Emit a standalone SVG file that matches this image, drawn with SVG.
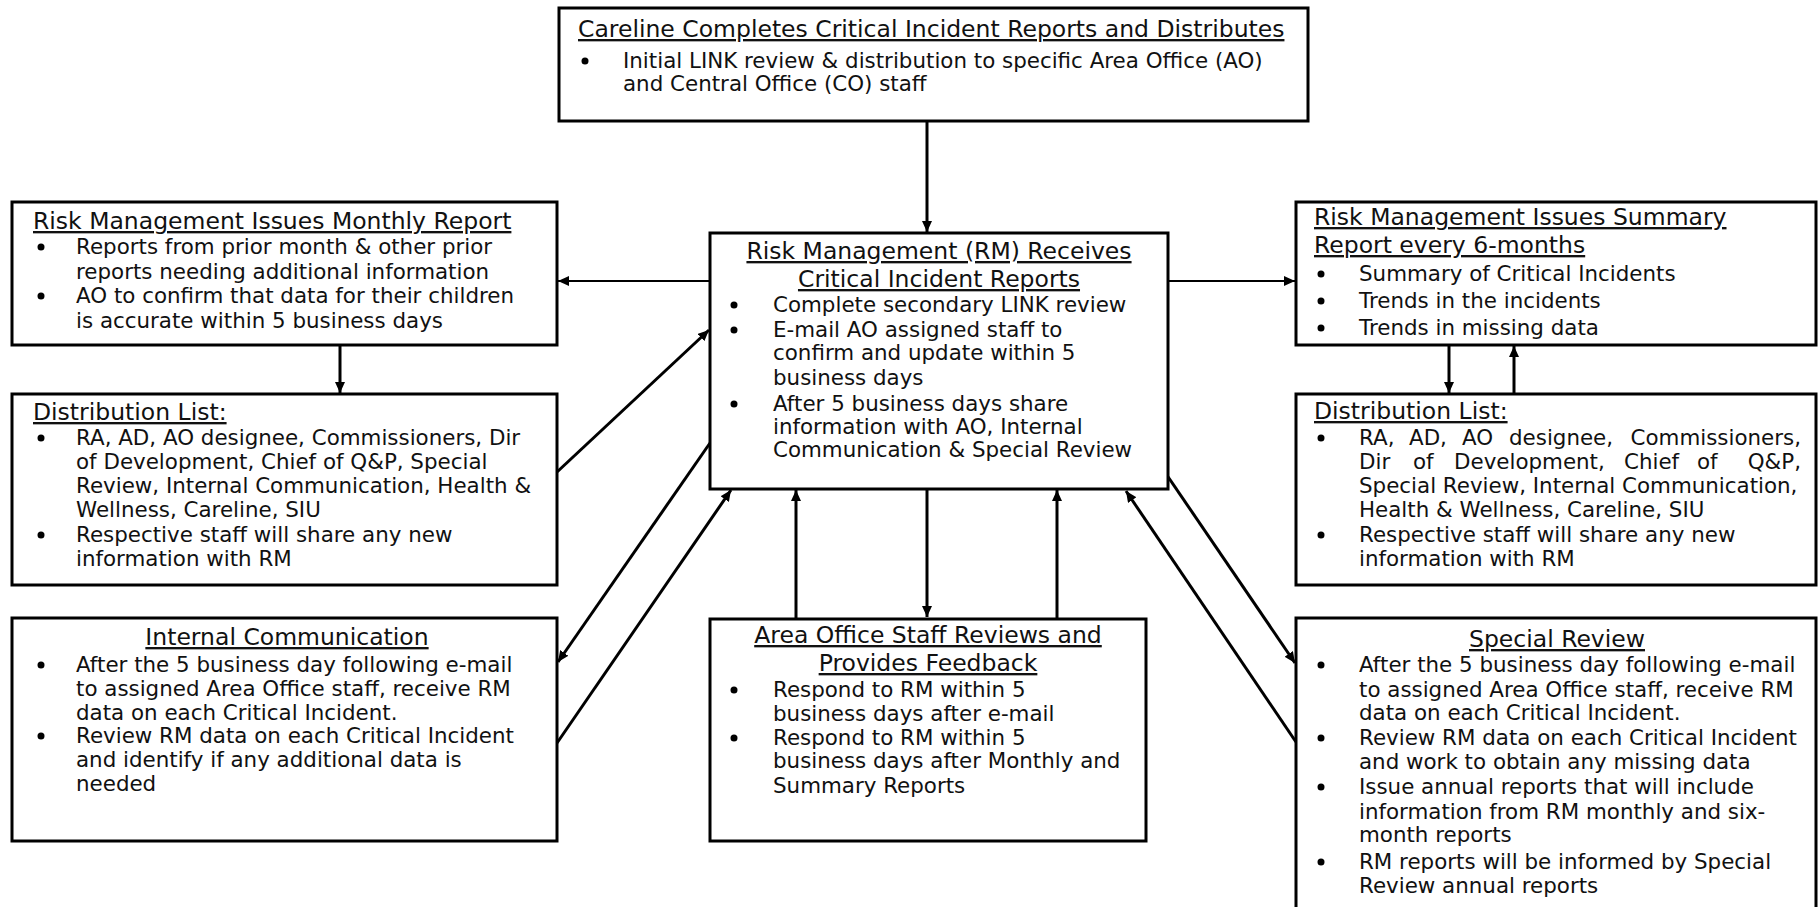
<svg xmlns="http://www.w3.org/2000/svg" width="1820" height="907" viewBox="0 0 1820 907">
<style>
.box{fill:#fff;stroke:#000;stroke-width:3}
.t{font-family:"DejaVu Sans",sans-serif;font-size:23.5px;fill:#111;text-decoration:underline}
.b{font-family:"DejaVu Sans",sans-serif;font-size:21.4px;fill:#111}
.c{text-anchor:middle}
.e{text-anchor:end}
.dot{fill:#000}
.con{stroke:#000;stroke-width:3;fill:none;marker-end:url(#ah)}
.thin{stroke-width:2}
</style>
<defs>
<marker id="ah" markerUnits="userSpaceOnUse" markerWidth="12" markerHeight="10" refX="11" refY="5" orient="auto">
<path d="M0,0 L11,5 L0,10 z" fill="#000"/>
</marker>
</defs>
<rect width="1820" height="907" fill="#fff"/>

<g id="connectors">
<line class="con" x1="927" y1="121" x2="927" y2="232"/>
<line class="con thin" x1="710" y1="281" x2="558" y2="281"/>
<line class="con thin" x1="1143" y1="281" x2="1295" y2="281"/>
<line class="con" x1="340" y1="345" x2="340" y2="393"/>
<line class="con" x1="1449" y1="345" x2="1449" y2="393"/>
<line class="con" x1="1514" y1="394" x2="1514" y2="346"/>
<line class="con" x1="557" y1="472" x2="709" y2="330"/>
<line class="con" x1="710" y1="443" x2="558" y2="662"/>
<line class="con" x1="557" y1="743" x2="731" y2="490"/>
<line class="con" x1="1145" y1="443" x2="1295" y2="663"/>
<line class="con" x1="1296" y1="742" x2="1126" y2="491"/>
<line class="con" x1="796" y1="618" x2="796" y2="490"/>
<line class="con" x1="927" y1="489" x2="927" y2="617"/>
<line class="con" x1="1057" y1="618" x2="1057" y2="490"/>
</g>

<g id="careline">
<rect class="box" x="559" y="8" width="749" height="113"/>
<text class="t" x="578" y="37">Careline Completes Critical Incident Reports and Distributes</text>
<circle class="dot" cx="585" cy="61" r="3.5"/>
<text class="b" x="623" y="68">Initial LINK review &amp; distribution to specific Area Office (AO)</text>
<text class="b" x="623" y="91">and Central Office (CO) staff</text>
</g>

<g id="rm-monthly">
<rect class="box" x="12" y="202" width="545" height="143"/>
<text class="t" x="33" y="229">Risk Management Issues Monthly Report</text>
<circle class="dot" cx="41" cy="247" r="3.5"/>
<circle class="dot" cx="41" cy="296" r="3.5"/>
<text class="b" x="76" y="254">Reports from prior month &amp; other prior</text>
<text class="b" x="76" y="279">reports needing additional information</text>
<text class="b" x="76" y="303">AO to confirm that data for their children</text>
<text class="b" x="76" y="328">is accurate within 5 business days</text>
</g>

<g id="dist-left">
<rect class="box" x="12" y="394" width="545" height="191"/>
<text class="t" x="33" y="420">Distribution List:</text>
<circle class="dot" cx="41" cy="438" r="3.5"/>
<circle class="dot" cx="41" cy="535" r="3.5"/>
<text class="b" x="76" y="445">RA, AD, AO designee, Commissioners, Dir</text>
<text class="b" x="76" y="469">of Development, Chief of Q&amp;P, Special</text>
<text class="b" x="76" y="493">Review, Internal Communication, Health &amp;</text>
<text class="b" x="76" y="517">Wellness, Careline, SIU</text>
<text class="b" x="76" y="542">Respective staff will share any new</text>
<text class="b" x="76" y="566">information with RM</text>
</g>

<g id="internal-communication">
<rect class="box" x="12" y="618" width="545" height="223"/>
<text class="t c" x="287" y="645">Internal Communication</text>
<circle class="dot" cx="41" cy="665" r="3.5"/>
<circle class="dot" cx="41" cy="736" r="3.5"/>
<text class="b" x="76" y="672">After the 5 business day following e-mail</text>
<text class="b" x="76" y="696">to assigned Area Office staff, receive RM</text>
<text class="b" x="76" y="720">data on each Critical Incident.</text>
<text class="b" x="76" y="743">Review RM data on each Critical Incident</text>
<text class="b" x="76" y="767">and identify if any additional data is</text>
<text class="b" x="76" y="791">needed</text>
</g>

<g id="rm-receives">
<rect class="box" x="710" y="233" width="458" height="256"/>
<text class="t c" x="939" y="259">Risk Management (RM) Receives</text>
<text class="t c" x="939" y="287">Critical Incident Reports</text>
<circle class="dot" cx="734" cy="305" r="3.5"/>
<circle class="dot" cx="734" cy="330" r="3.5"/>
<circle class="dot" cx="734" cy="404" r="3.5"/>
<text class="b" x="773" y="312">Complete secondary LINK review</text>
<text class="b" x="773" y="337">E-mail AO assigned staff to</text>
<text class="b" x="773" y="360">confirm and update within 5</text>
<text class="b" x="773" y="385">business days</text>
<text class="b" x="773" y="411">After 5 business days share</text>
<text class="b" x="773" y="434">information with AO, Internal</text>
<text class="b" x="773" y="457">Communication &amp; Special Review</text>
</g>

<g id="rm-summary">
<rect class="box" x="1296" y="202" width="520" height="143"/>
<text class="t" x="1314" y="225">Risk Management Issues Summary</text>
<text class="t" x="1314" y="253">Report every 6-months</text>
<circle class="dot" cx="1321" cy="274" r="3.5"/>
<circle class="dot" cx="1321" cy="301" r="3.5"/>
<circle class="dot" cx="1321" cy="328" r="3.5"/>
<text class="b" x="1359" y="281">Summary of Critical Incidents</text>
<text class="b" x="1359" y="308">Trends in the incidents</text>
<text class="b" x="1359" y="335">Trends in missing data</text>
</g>

<g id="dist-right">
<rect class="box" x="1296" y="394" width="520" height="191"/>
<text class="t" x="1314" y="419">Distribution List:</text>
<circle class="dot" cx="1321" cy="438" r="3.5"/>
<circle class="dot" cx="1321" cy="535" r="3.5"/>
<text class="b" x="1359" y="445">RA,</text>
<text class="b" x="1409" y="445">AD,</text>
<text class="b" x="1462" y="445">AO</text>
<text class="b" x="1509" y="445">designee,</text>
<text class="b e" x="1801" y="445">Commissioners,</text>
<text class="b" x="1359" y="469">Dir</text>
<text class="b" x="1413" y="469">of</text>
<text class="b" x="1454" y="469">Development,</text>
<text class="b" x="1624" y="469">Chief</text>
<text class="b" x="1697" y="469">of</text>
<text class="b e" x="1801" y="469">Q&amp;P,</text>
<text class="b" x="1359" y="493">Special Review, Internal Communication,</text>
<text class="b" x="1359" y="517">Health &amp; Wellness, Careline, SIU</text>
<text class="b" x="1359" y="542">Respective staff will share any new</text>
<text class="b" x="1359" y="566">information with RM</text>
</g>

<g id="area-office">
<rect class="box" x="710" y="619" width="436" height="222"/>
<text class="t c" x="928" y="643">Area Office Staff Reviews and</text>
<text class="t c" x="928" y="671">Provides Feedback</text>
<circle class="dot" cx="734" cy="690" r="3.5"/>
<circle class="dot" cx="734" cy="738" r="3.5"/>
<text class="b" x="773" y="697">Respond to RM within 5</text>
<text class="b" x="773" y="721">business days after e-mail</text>
<text class="b" x="773" y="745">Respond to RM within 5</text>
<text class="b" x="773" y="768">business days after Monthly and</text>
<text class="b" x="773" y="793">Summary Reports</text>
</g>

<g id="special-review">
<rect class="box" x="1296" y="618" width="520" height="300"/>
<text class="t c" x="1557" y="647">Special Review</text>
<circle class="dot" cx="1321" cy="665" r="3.5"/>
<circle class="dot" cx="1321" cy="738" r="3.5"/>
<circle class="dot" cx="1321" cy="787" r="3.5"/>
<circle class="dot" cx="1321" cy="862" r="3.5"/>
<text class="b" x="1359" y="672">After the 5 business day following e-mail</text>
<text class="b" x="1359" y="697">to assigned Area Office staff, receive RM</text>
<text class="b" x="1359" y="720">data on each Critical Incident.</text>
<text class="b" x="1359" y="745">Review RM data on each Critical Incident</text>
<text class="b" x="1359" y="769">and work to obtain any missing data</text>
<text class="b" x="1359" y="794">Issue annual reports that will include</text>
<text class="b" x="1359" y="819">information from RM monthly and six-</text>
<text class="b" x="1359" y="842">month reports</text>
<text class="b" x="1359" y="869">RM reports will be informed by Special</text>
<text class="b" x="1359" y="893">Review annual reports</text>
</g>
</svg>
